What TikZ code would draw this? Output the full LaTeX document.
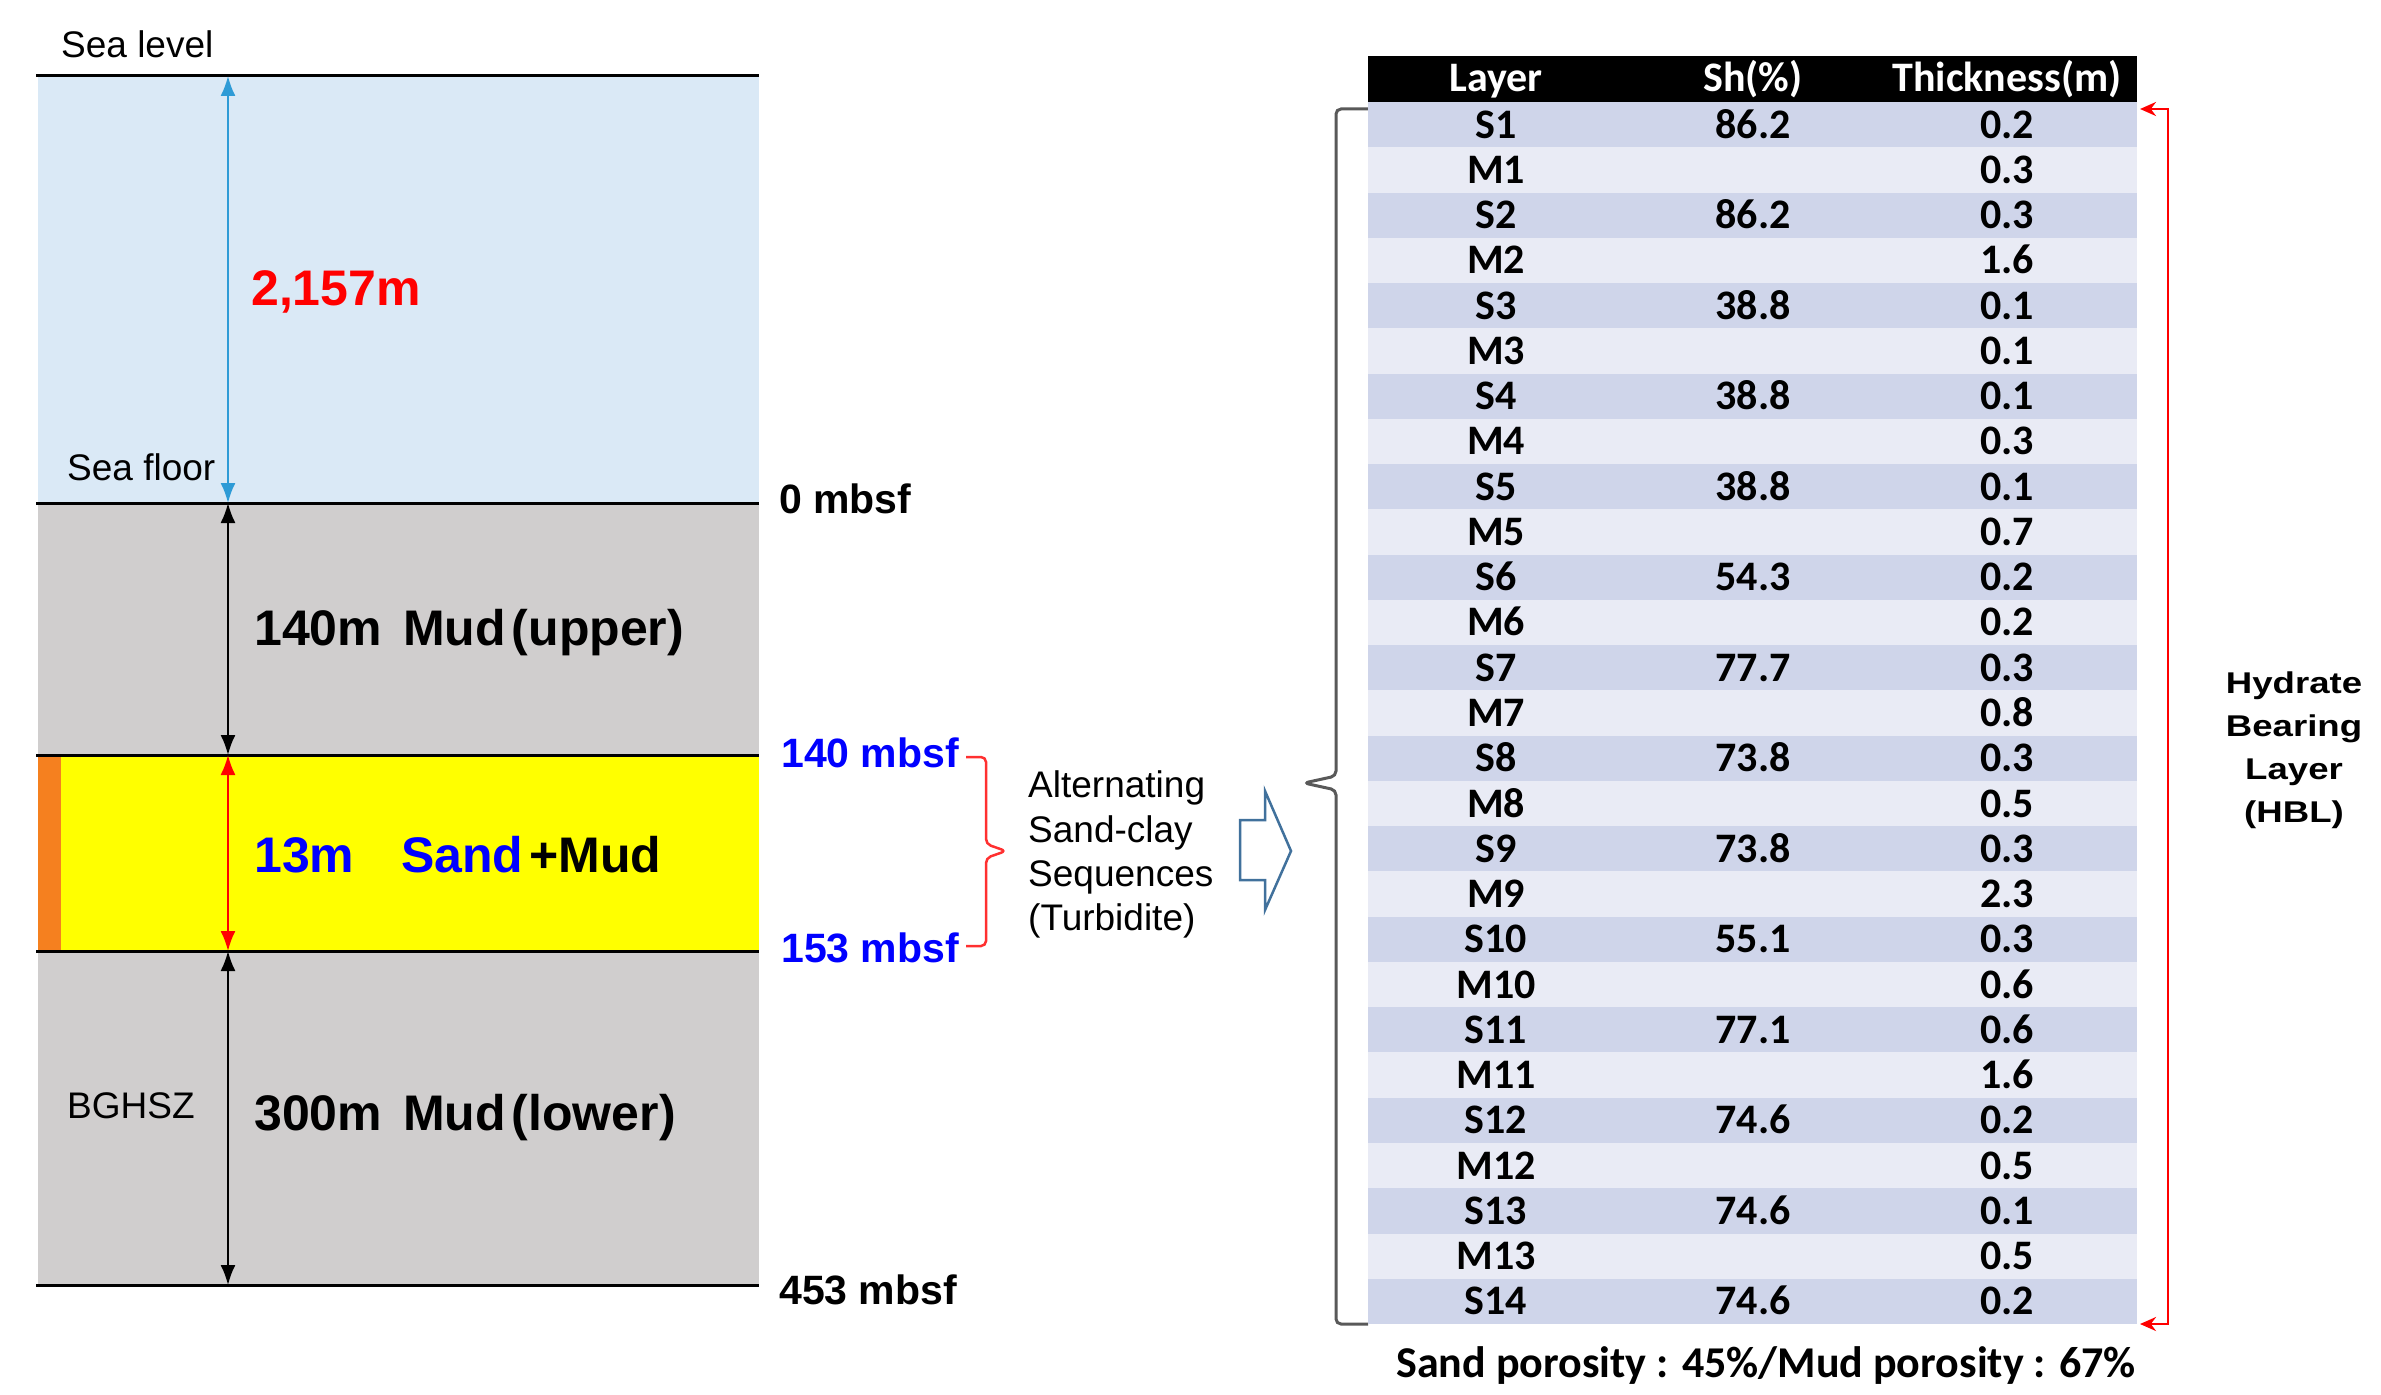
\documentclass[tikz,border=0pt]{standalone}
\usepackage{fontspec}
\setmainfont{Liberation Sans}
\newfontfamily\tabfont{Carlito}
\newfontfamily\widefont[FakeStretch=1.22]{Liberation Sans}
\usetikzlibrary{arrows.meta}
\definecolor{water}{HTML}{DAE9F6}
\definecolor{mud}{HTML}{D0CECE}
\definecolor{sandy}{HTML}{FFFF00}
\definecolor{orangestrip}{HTML}{F5801F}
\definecolor{arrblue}{HTML}{2E9BD6}
\definecolor{mbsfblue}{HTML}{0000FF}
\definecolor{rowS}{HTML}{CFD5EA}
\definecolor{rowM}{HTML}{E9EBF5}
\definecolor{brgray}{HTML}{595959}
\definecolor{bkarrow}{HTML}{41719C}
\definecolor{brred}{HTML}{FF3030}
\begin{document}
\begin{tikzpicture}[x=1pt,y=-1pt,
  lbl/.style={inner sep=0pt, anchor=base west, font=\fontsize{37}{44}\selectfont},
  big/.style={inner sep=0pt, anchor=base west, font=\fontsize{50}{58}\selectfont\bfseries},
  mbsf/.style={inner sep=0pt, anchor=base west, font=\fontsize{41}{48}\selectfont\bfseries},
  cell/.style={inner sep=0pt, anchor=base, font=\tabfont\bfseries\fontsize{42}{50}\selectfont},
  hbl/.style={inner sep=0pt, anchor=base, font=\widefont\bfseries\fontsize{30}{36}\selectfont},
  layerline/.style={line width=3pt, black},
  dimarrow/.style={line width=2pt, {Latex[length=20pt,width=15pt]}-{Latex[length=20pt,width=15pt]}},
  brace/.style={line width=3pt, rounded corners=5pt}
]
\useasboundingbox (0,0) rectangle (2381,1394);
% layers
\fill[water] (38,76) rectangle (759,503);
\fill[mud] (38,503) rectangle (759,755);
\fill[sandy] (38,755) rectangle (759,951);
\fill[orangestrip] (38,755) rectangle (61,951);
\fill[mud] (38,951) rectangle (759,1285);
\draw[layerline] (36,76) -- (759,76);
\draw[layerline] (36,503) -- (759,503);
\draw[layerline] (36,755) -- (759,755);
\draw[layerline] (36,951) -- (759,951);
\draw[layerline] (36,1285) -- (759,1285);
% dimension arrows
\coordinate (sl) at (228,76);
\coordinate (sf) at (228,503);
\coordinate (t140) at (228,755);
\coordinate (t153) at (228,951);
\coordinate (t453) at (228,1285);
\draw[dimarrow, arrblue] (sl) -- (sf);
\draw[dimarrow, black] (sf) -- (t140);
\draw[dimarrow, red] (t140) -- (t153);
\draw[dimarrow, black] (t153) -- (t453);
% labels left
\node[lbl] (sealevel) at (61,58) {Sea level};
\node[lbl] (seafloor) at (67,480) {Sea floor};
\node[big, text=red] (depth) at (251,305) {2,157m};
\node[big] (upper) at (254,645) {140m\hspace{21pt}Mud\hspace{6pt}(upper)};
\node[big] (sand) at (254,872) {\textcolor{mbsfblue}{13m\hspace{47pt}Sand}\hspace{6pt}+Mud};
\node[big] (lower) at (254,1130) {300m\hspace{21pt}Mud\hspace{6pt}(lower)};
\node[lbl] (bghsz) at (67,1118) {BGHSZ};
\node[mbsf] (m0) at (779,513) {0 mbsf};
\node[mbsf, text=mbsfblue] (m140) at (781,767) {140 mbsf};
\node[mbsf, text=mbsfblue] (m153) at (781,962) {153 mbsf};
\node[mbsf] (m453) at (779,1304) {453 mbsf};
% red brace
\draw[brred, line width=2.5pt, rounded corners=5pt] (966,757) -| (986,844) -- (1006,851) -- (986,858) |- (966,946);
% alternating text
\node[lbl] (alt1) at (1028,797) {Alternating};
\node[lbl] (alt2) at (1028,842) {Sand-clay};
\node[lbl] (alt3) at (1028,886) {Sequences};
\node[lbl] (alt4) at (1028,930) {(Turbidite)};
% block arrow
\draw[bkarrow, line width=2.5pt, fill=white, line join=miter] (1240,820) -- (1265,820) -- (1265,791) -- (1291,851) -- (1265,910) -- (1265,880) -- (1240,880) -- cycle;
% gray brace
\draw[brace, brgray] (1368,109) -| (1336,776) -- (1304,783) -- (1336,790) |- (1368,1324);
% table header
\fill[black] (1368,56) rectangle (2137,102);
\node[cell, text=white] (hL) at (1496,92) {Layer};
\node[cell, text=white] (hS) at (1753,92) {Sh(\%)};
\node[cell, text=white] (hT) at (2007,92) {Thickness(m)};
% rows
\foreach \l/\s/\t [count=\i from 0] in {S1/86.2/0.2, M1//0.3, S2/86.2/0.3, M2//1.6, S3/38.8/0.1, M3//0.1, S4/38.8/0.1, M4//0.3, S5/38.8/0.1, M5//0.7, S6/54.3/0.2, M6//0.2, S7/77.7/0.3, M7//0.8, S8/73.8/0.3, M8//0.5, S9/73.8/0.3, M9//2.3, S10/55.1/0.3, M10//0.6, S11/77.1/0.6, M11//1.6, S12/74.6/0.2, M12//0.5, S13/74.6/0.1, M13//0.5, S14/74.6/0.2} {
  \pgfmathsetmacro\rtop{102+\i*45.26}
  \ifodd\i \def\rc{rowM}\else\def\rc{rowS}\fi
  \fill[\rc] (1368,\rtop) rectangle (2137,\rtop+45.26);
  \node[cell] (L\i) at (1496,\rtop+36.1) {\l};
  \node[cell] (S\i) at (1753,\rtop+36.1) {\s};
  \node[cell] (T\i) at (2007,\rtop+36.1) {\t};
}
% red bracket
\coordinate (hbltop) at (2140,109);
\coordinate (hblbot) at (2140,1324);
\draw[red, line width=2.5pt, {Stealth[length=16pt,width=14pt]}-{Stealth[length=16pt,width=14pt]}] (hbltop) -- (2168,109) -- (2168,1324) -- (hblbot);
\node[hbl] (h1) at (2294,693) {Hydrate};
\node[hbl] (h2) at (2294,736) {Bearing};
\node[hbl] (h3) at (2294,779) {Layer};
\node[hbl] (h4) at (2294,822) {(HBL)};
% porosity
\node[cell, font=\tabfont\bfseries\fontsize{44}{52}\selectfont] (poro) at (1766,1377) {Sand\hspace{10pt}porosity : 45\%/Mud porosity : 67\%};
\end{tikzpicture}
\end{document}
